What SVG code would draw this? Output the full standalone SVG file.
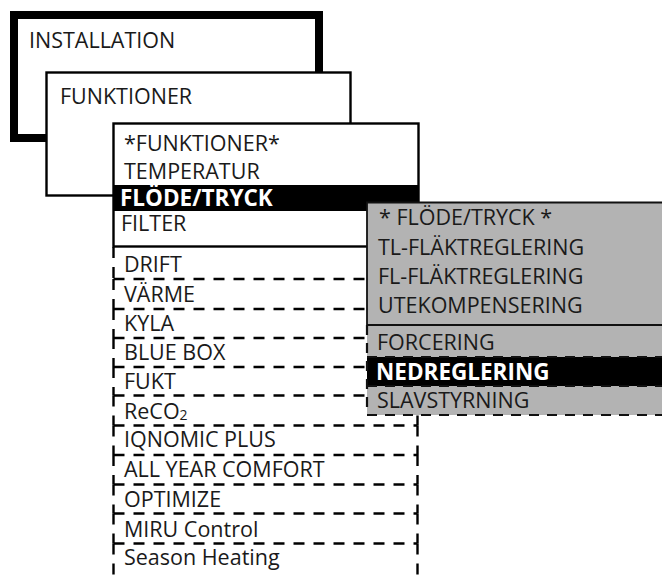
<svg xmlns="http://www.w3.org/2000/svg" width="662" height="578" viewBox="0 0 662 578">
<style>
text{font-family:"Open Sans","Noto Sans","Liberation Sans",sans-serif;font-size:21.5px;fill:#1a1a1a}
.b{font-weight:bold;fill:#fff;font-size:22.5px}
.box{fill:#fff;stroke:#000;stroke-width:2.4}
.dash{fill:none;stroke:#000;stroke-width:2.4;stroke-dasharray:11 9}
.thin{fill:none;stroke:#111;stroke-width:1.8}
.thind{fill:none;stroke:#111;stroke-width:2.2;stroke-dasharray:10 8}
</style>
<rect width="662" height="578" fill="#fff"/>
<g id="installation">
<rect x="14" y="15" width="305" height="123" fill="#fff" stroke="#000" stroke-width="8"/>
<text x="29" y="48">INSTALLATION</text>
</g>
<g id="funktioner">
<rect x="46.5" y="72.5" width="304" height="123" class="box"/>
<text x="60" y="104">FUNKTIONER</text>
</g>
<g id="main-menu">
<rect x="113.5" y="123.5" width="305" height="123" class="box"/>
<rect x="113.5" y="185" width="305" height="26" fill="#000"/>
<text x="124" y="151">*FUNKTIONER*</text>
<text x="124" y="179">TEMPERATUR</text>
<text x="120" y="206" class="b">FLÖDE/TRYCK</text>
<text x="121" y="231">FILTER</text>
</g>
<g id="list">
<g id="drift"><path class="dash" d="M113.5,247V279M417.5,247V279"/><text x="124" y="272">DRIFT</text></g>
<g id="varme"><path class="dash" d="M113.5,279H417.5M113.5,279V309M417.5,279V309"/><text x="124" y="301.5">VÄRME</text></g>
<g id="kyla"><path class="dash" d="M113.5,309H417.5M113.5,309V338M417.5,309V338"/><text x="124" y="330.5">KYLA</text></g>
<g id="bluebox"><path class="dash" d="M113.5,338H417.5M113.5,338V367M417.5,338V367"/><text x="124" y="360">BLUE BOX</text></g>
<g id="fukt"><path class="dash" d="M113.5,367H417.5M113.5,367V395.5M417.5,367V395.5"/><text x="124" y="388.5">FUKT</text></g>
<g id="reco2"><path class="dash" d="M113.5,395.5H417.5M113.5,395.5V425.5M417.5,395.5V425.5"/><text x="124" y="418.5">ReCO<tspan font-size="14" dy="1">2</tspan></text></g>
<g id="iqnomic"><path class="dash" d="M113.5,425.5H417.5M113.5,425.5V455M417.5,425.5V455"/><text x="124" y="447">IQNOMIC PLUS</text></g>
<g id="allyear"><path class="dash" d="M113.5,455H417.5M113.5,455V484.5M417.5,455V484.5"/><text x="124" y="477">ALL YEAR COMFORT</text></g>
<g id="optimize"><path class="dash" d="M113.5,484.5H417.5M113.5,484.5V513.5M417.5,484.5V513.5"/><text x="124" y="506.5">OPTIMIZE</text></g>
<g id="miru"><path class="dash" d="M113.5,513.5H417.5M113.5,513.5V543.5M417.5,513.5V543.5"/><text x="124" y="536.5">MIRU Control</text></g>
<g id="season"><path class="dash" d="M113.5,543.5H417.5M113.5,543.5V576M417.5,543.5V576"/><text x="124" y="565">Season Heating</text></g>
</g>
<g id="flode-menu">
<rect x="367" y="202.5" width="300" height="212.5" fill="#b3b3b3"/>
<path class="thin" d="M367,325V202.5H662"/>
<path class="thin" d="M367,325H662"/>
<rect x="367" y="357" width="295" height="29" fill="#000"/>
<path class="thind" d="M367,357H662M367,386H662M367,415H662M367,325V415"/>
<text x="379" y="225">* FLÖDE/TRYCK *</text>
<text x="378" y="255">TL-FLÄKTREGLERING</text>
<text x="378" y="284">FL-FLÄKTREGLERING</text>
<text x="378" y="313">UTEKOMPENSERING</text>
<text x="377" y="350">FORCERING</text>
<text x="376" y="379.5" class="b">NEDREGLERING</text>
<text x="377" y="408">SLAVSTYRNING</text>
</g>
<g id="connectors"/>
</svg>
